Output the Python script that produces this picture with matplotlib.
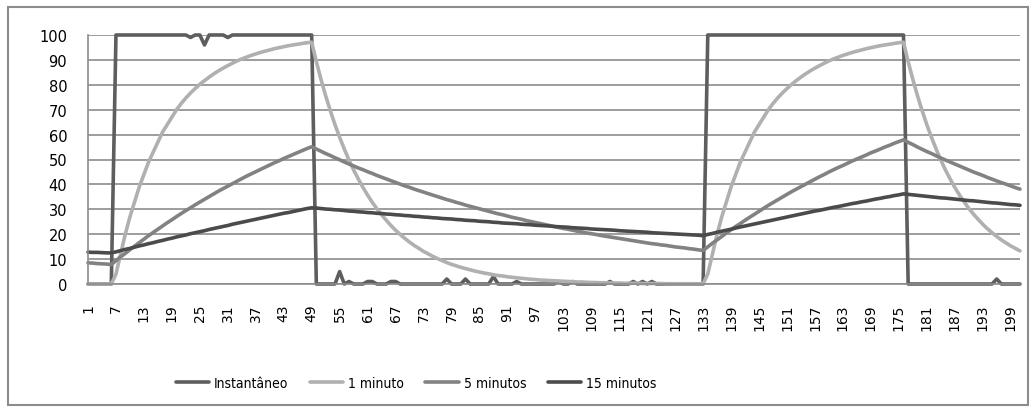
import matplotlib.pyplot as plt
from matplotlib.patches import Rectangle
from matplotlib import font_manager

series_names = ['Instantâneo', '1 minuto', '5 minutos', '15 minutos']

instantaneo = [
    0, 0, 0, 0, 0, 0, 100, 100, 100, 100,
    100, 100, 100, 100, 100, 100, 100, 100, 100, 100,
    100, 100, 99, 100, 100, 96, 100, 100, 100, 100,
    99, 100, 100, 100, 100, 100, 100, 100, 100, 100,
    100, 100, 100, 100, 100, 100, 100, 100, 100, 0,
    0, 0, 0, 0, 5, 0, 1, 0, 0, 0,
    1, 1, 0, 0, 0, 1, 1, 0, 0, 0,
    0, 0, 0, 0, 0, 0, 0, 2, 0, 0,
    0, 2, 0, 0, 0, 0, 0, 3, 0, 0,
    0, 0, 1, 0, 0, 0, 0, 0, 0, 0,
    0, 1, 0, 0, 1, 0, 0, 0, 0, 0,
    0, 0, 1, 0, 0, 0, 0, 1, 0, 1,
    0, 1, 0, 0, 0, 0, 0, 0, 0, 0,
    0, 0, 0, 100, 100, 100, 100, 100, 100, 100,
    100, 100, 100, 100, 100, 100, 100, 100, 100, 100,
    100, 100, 100, 100, 100, 100, 100, 100, 100, 100,
    100, 100, 100, 100, 100, 100, 100, 100, 100, 100,
    100, 100, 100, 100, 100, 100, 0, 0, 0, 0,
    0, 0, 0, 0, 0, 0, 0, 0, 0, 0,
    0, 0, 0, 0, 0, 2, 0, 0, 0, 0,
    0,
]

um_minuto = [
    0, 0, 0, 0, 0, 0,
    4, 12, 20, 27, 33, 39, 44, 49, 53, 57, 61, 64, 67, 70,
    72.5, 74.7, 76.7, 78.5, 80.2, 81.7, 83.1, 84.4, 85.6,
    86.7, 87.7, 88.7, 89.6, 90.4, 91.1, 91.8, 92.4, 93.0, 93.5,
    94.0, 94.5, 94.9, 95.3, 95.7, 96.0, 96.3, 96.6, 96.9, 97.1,
    89.3, 82.2, 75.6, 69.6, 64.0, 58.9, 54.2, 49.8, 45.8, 42.2,
    38.8, 35.7, 32.8, 30.2, 27.8, 25.6, 23.5, 21.6, 19.9, 18.3,
    16.8, 15.5, 14.3, 13.1, 12.1, 11.1, 10.2, 9.4, 8.6, 7.9,
    7.3, 6.7, 6.2, 5.7, 5.2, 4.8, 4.4, 4.1, 3.7, 3.4,
    3.2, 2.9, 2.7, 2.5, 2.3, 2.1, 1.9, 1.8, 1.6, 1.5,
    1.4, 1.3, 1.2, 1.1, 1.0, 0.9, 0.8, 0.8, 0.7, 0.6,
    0.6, 0.5, 0.5, 0.4, 0.4, 0.4, 0.3, 0.3, 0.3, 0.3,
    0.2, 0.2, 0.2, 0.2, 0.2, 0.1, 0.1, 0.1, 0.1, 0.1,
    0.1, 0.1, 0.1, 0.1,
    4, 12, 20, 27, 33, 39, 44, 49, 53, 57, 61, 64, 67, 70,
    72.5, 74.7, 76.7, 78.5, 80.2, 81.7, 83.1, 84.4, 85.6,
    86.7, 87.7, 88.7, 89.6, 90.4, 91.1, 91.8, 92.4, 93.0, 93.5,
    94.0, 94.5, 94.9, 95.3, 95.7, 96.0, 96.3, 96.6, 96.9, 97.1,
    89.3, 82.2, 75.6, 69.6, 64.0, 58.9, 54.2, 49.8, 45.8, 42.2,
    38.8, 35.8, 33.0, 30.4, 28.1, 26.0, 24.0, 22.2, 20.6, 19.1,
    17.7, 16.5, 15.3, 14.3, 13.3,
]

cinco_minutos = [
    8.5, 8.4, 8.2, 8.1, 8.0, 7.8,
    9.4, 10.9, 12.3, 13.8, 15.2, 16.6, 18.0, 19.4, 20.7, 22.0,
    23.3, 24.6, 25.8, 27.1, 28.3, 29.5, 30.6, 31.8, 32.9, 34.0,
    35.1, 36.2, 37.3, 38.3, 39.3, 40.3, 41.3, 42.3, 43.3, 44.2,
    45.1, 46.0, 46.9, 47.8, 48.7, 49.5, 50.4, 51.2, 52.0, 52.8,
    53.6, 54.4, 55.1,
    54.2, 53.3, 52.4, 51.6, 50.7, 49.9, 49.0, 48.2, 47.4,
    46.6, 45.9, 45.1, 44.4, 43.6, 42.9, 42.2, 41.5, 40.8, 40.1,
    39.4, 38.8, 38.1, 37.5, 36.9, 36.3, 35.7, 35.1, 34.5, 33.9,
    33.4, 32.8, 32.3, 31.7, 31.2, 30.7, 30.2, 29.7, 29.2, 28.7,
    28.2, 27.8, 27.3, 26.8, 26.4, 26.0, 25.5, 25.1, 24.7, 24.3,
    23.9, 23.5, 23.1, 22.7, 22.3, 22.0, 21.6, 21.2, 20.9, 20.5,
    20.2, 19.9, 19.5, 19.2, 18.9, 18.6, 18.3, 18.0, 17.7, 17.4,
    17.1, 16.8, 16.5, 16.2, 16.0, 15.7, 15.5, 15.2, 14.9, 14.7,
    14.5, 14.2, 14.0, 13.7, 13.5,
    14.9, 16.4, 17.7, 19.1, 20.5, 21.8, 23.1, 24.3, 25.6, 26.8,
    28.0, 29.2, 30.4, 31.6, 32.7, 33.8, 34.9, 36.0, 37.1, 38.1,
    39.1, 40.1, 41.1, 42.1, 43.1, 44.0, 45.0, 45.9, 46.8, 47.6,
    48.5, 49.4, 50.2, 51.0, 51.8, 52.7, 53.4, 54.2, 55.0, 55.7,
    56.5, 57.2, 57.9,
    56.9, 56.0, 55.0, 54.1, 53.2, 52.4, 51.5, 50.6, 49.8, 49.0,
    48.2, 47.4, 46.6, 45.8, 45.0, 44.3, 43.6, 42.8, 42.1, 41.4,
    40.7, 40.1, 39.4, 38.7, 38.1,
]

quinze_minutos = [
    12.8, 12.7, 12.7, 12.6, 12.5, 12.5,
    12.9, 13.4, 13.9, 14.3, 14.8, 15.3, 15.7, 16.2, 16.6, 17.1,
    17.5, 18.0, 18.4, 18.9, 19.3, 19.7, 20.2, 20.6, 21.0, 21.4,
    21.9, 22.3, 22.7, 23.1, 23.5, 24.0, 24.4, 24.8, 25.2, 25.6,
    26.0, 26.4, 26.8, 27.2, 27.6, 28.0, 28.4, 28.7, 29.1, 29.5,
    29.9, 30.3, 30.6,
    30.5, 30.3, 30.1, 30.0, 29.8, 29.7, 29.5, 29.3, 29.2, 29.0,
    28.9, 28.7, 28.6, 28.4, 28.3, 28.1, 28.0, 27.8, 27.7, 27.5,
    27.4, 27.2, 27.1, 26.9, 26.8, 26.6, 26.5, 26.3, 26.2, 26.1,
    25.9, 25.8, 25.6, 25.5, 25.4, 25.2, 25.1, 25.0, 24.8, 24.7,
    24.5, 24.4, 24.3, 24.2, 24.0, 23.9, 23.8, 23.6, 23.5, 23.4,
    23.3, 23.1, 23.0, 22.9, 22.8, 22.6, 22.5, 22.4, 22.3, 22.1,
    22.0, 21.9, 21.8, 21.7, 21.6, 21.4, 21.3, 21.2, 21.1, 21.0,
    20.9, 20.8, 20.6, 20.5, 20.4, 20.3, 20.2, 20.1, 20.0, 19.9,
    19.8, 19.7, 19.6, 19.4,
    19.9, 20.3, 20.8, 21.2, 21.6, 22.0, 22.5, 22.9, 23.3, 23.7,
    24.1, 24.5, 24.9, 25.3, 25.7, 26.1, 26.5, 26.9, 27.3, 27.7,
    28.1, 28.5, 28.9, 29.3, 29.6, 30.0, 30.4, 30.8, 31.1, 31.5,
    31.9, 32.3, 32.6, 33.0, 33.3, 33.7, 34.1, 34.4, 34.8, 35.1,
    35.5, 35.8, 36.2,
    36.0, 35.8, 35.6, 35.4, 35.2, 35.0, 34.8, 34.6, 34.5, 34.3,
    34.1, 33.9, 33.7, 33.5, 33.4, 33.2, 33.0, 32.8, 32.6, 32.5,
    32.3, 32.1, 31.9, 31.8, 31.6,
]

x = list(range(1, len(instantaneo) + 1))
xtick_vals = list(range(1, 200, 6))

W, H = 1036, 414
fig = plt.figure(figsize=(W / 100, H / 100), dpi=100)
ax = fig.add_axes([88 / W, 1 - 285 / H, (1020 - 88) / W, (285 - 36) / H])

# colours: instant, 1 min, 5 min, 15 min
colors = ['#5e5e5e', '#b0b0b0', '#828282', '#4b4b4b']
data = [instantaneo, um_minuto, cinco_minutos, quinze_minutos]
for name, vals, c in zip(series_names, data, colors):
    ax.plot(x, vals, color=c, lw=2.6, label=name, clip_on=False,
            solid_joinstyle='round', solid_capstyle='round')

ax.set_xlim(1, 201)
ax.set_ylim(0, 100)
ax.set_yticks(range(0, 101, 10))
ax.set_xticks(xtick_vals)
ax.set_xticklabels([str(v) for v in xtick_vals], rotation=90)
ax.tick_params(axis='y', length=0, pad=15, labelsize=10.5)
ax.tick_params(axis='x', length=0, pad=14, labelsize=10)
ax.grid(axis='y', color='#8c8c8c', lw=1.2)
ax.set_axisbelow(True)
for side in ['top', 'right']:
    ax.spines[side].set_visible(False)
for side in ['left', 'bottom']:
    ax.spines[side].set_color('#8c8c8c')
    ax.spines[side].set_linewidth(1.2)

# chart border
fig.patches.append(Rectangle((8 / W, 8 / H), 1020 / W, 398 / H, transform=fig.transFigure,
                             fill=False, edgecolor='#8c8c8c', lw=1.5))

# narrow legend font (condensed DejaVu)
legend_font = font_manager.FontProperties(family='DejaVu Sans', stretch='condensed', size=10)
fig.legend(loc='center', bbox_to_anchor=(0.4015, 1 - 384 / H), ncol=4, frameon=False,
           handlelength=2.4, handletextpad=0.35, columnspacing=1.55, prop=legend_font)

fig.savefig('out.png', dpi=100)
